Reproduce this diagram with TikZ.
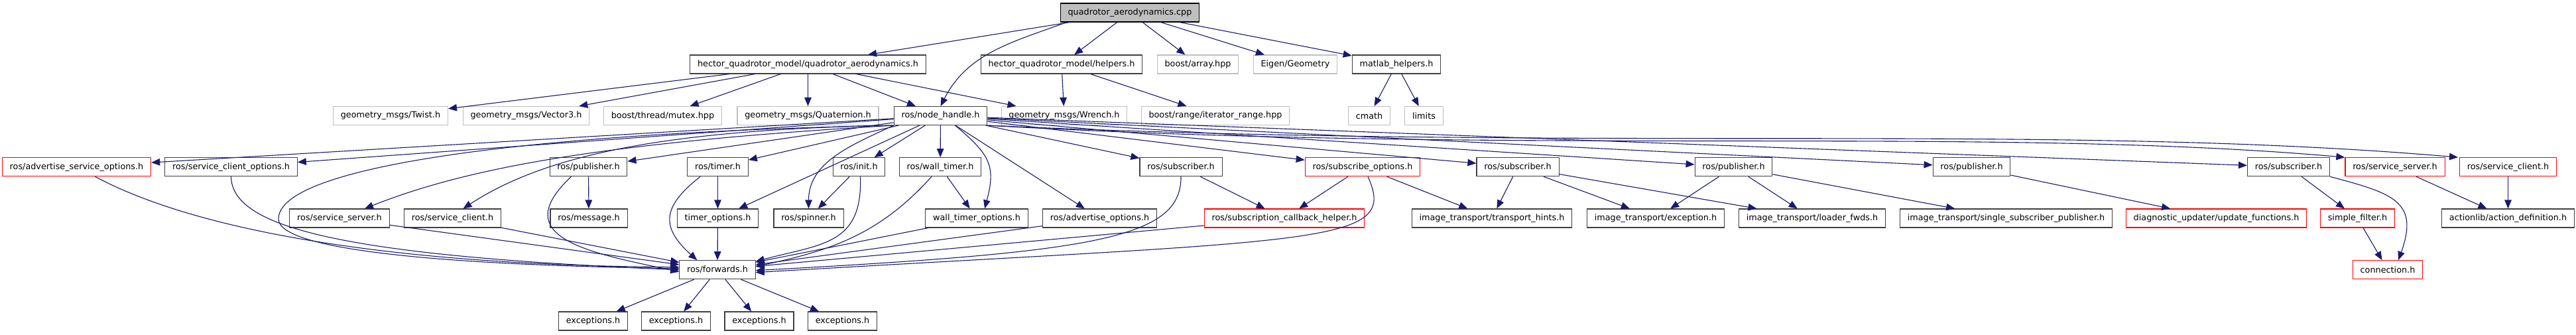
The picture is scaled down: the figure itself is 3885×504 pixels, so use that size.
\documentclass[tikz,border=0pt]{standalone}
\usepackage{fontspec}
\setmainfont{DejaVu Sans}
\usepackage{tikz}
\usetikzlibrary{arrows.meta, calc}
\definecolor{edgeblue}{HTML}{191970}
\definecolor{boxgray}{HTML}{404040}
\definecolor{sysgray}{HTML}{BFBFBF}
\definecolor{cutred}{HTML}{FF0000}
\tikzset{
    hfile/.style={draw=boxgray, line width=1.1pt, minimum height=28pt,
        inner xsep=11.3pt, inner ysep=0pt, font=\fontsize{12.8}{15}\selectfont},
    sysfile/.style={hfile, draw=sysgray},
    cutfile/.style={hfile, draw=cutred},
    srcfile/.style={hfile, draw=black, fill=sysgray},
    incl/.style={draw=edgeblue, line width=1.1pt, -{Triangle[length=13pt, width=10.5pt]}}
}

\begin{document}
\begin{tikzpicture}[x=1pt, y=1pt]
    \useasboundingbox (0,0) rectangle (3885,-504);
    % Source file
    \node[srcfile] (cpp) at (1704,-19) {quadrotor\_aerodynamics.cpp};
    % Direct includes
    \node[hfile] (qah) at (1218.5,-97) {hector\_quadrotor\_model/quadrotor\_aerodynamics.h};
    \node[hfile] (helpers) at (1601,-97) {hector\_quadrotor\_model/helpers.h};
    \node[sysfile] (array) at (1806.5,-97) {boost/array.hpp};
    \node[sysfile] (eigen) at (1953.5,-97) {Eigen/Geometry};
    \node[hfile] (matlab) at (2106,-97) {matlab\_helpers.h};
    % Messages, node handle, system headers
    \node[sysfile] (twist) at (589,-174.5) {geometry\_msgs/Twist.h};
    \node[sysfile] (vector3) at (793.5,-174.5) {geometry\_msgs/Vector3.h};
    \node[sysfile] (mutex) at (999.5,-174.5) {boost/thread/mutex.hpp};
    \node[sysfile] (quaternion) at (1218.5,-174.5) {geometry\_msgs/Quaternion.h};
    \node[hfile] (nodehandle) at (1418.5,-174.5) {ros/node\_handle.h};
    \node[sysfile] (wrench) at (1605,-174.5) {geometry\_msgs/Wrench.h};
    \node[sysfile] (iterrange) at (1833,-174.5) {boost/range/iterator\_range.hpp};
    \node[sysfile] (cmath) at (2065,-174.5) {cmath};
    \node[sysfile] (limits) at (2147.5,-174.5) {limits};
    % What the node handle pulls in
    \node[cutfile] (advsrvopt) at (115.5,-251.7) {ros/advertise\_service\_options.h};
    \node[hfile] (srvcliopt) at (348.5,-251.7) {ros/service\_client\_options.h};
    \node[hfile] (pubA) at (887.5,-251.7) {ros/publisher.h};
    \node[hfile] (timer) at (1082.5,-251.7) {ros/timer.h};
    \node[hfile] (init) at (1295.5,-251.7) {ros/init.h};
    \node[hfile] (walltimer) at (1418,-251.7) {ros/wall\_timer.h};
    \node[hfile] (subA) at (1781,-251.7) {ros/subscriber.h};
    \node[cutfile] (subopt) at (2055,-251.7) {ros/subscribe\_options.h};
    \node[hfile] (subB) at (2289,-251.7) {ros/subscriber.h};
    \node[hfile] (pubB) at (2614.5,-251.7) {ros/publisher.h};
    \node[hfile] (pubC) at (2973.5,-251.7) {ros/publisher.h};
    \node[hfile] (subC) at (3451.5,-251.7) {ros/subscriber.h};
    \node[cutfile] (srvsrvR) at (3612,-251.7) {ros/service\_server.h};
    \node[cutfile] (srvcliR) at (3782.5,-251.7) {ros/service\_client.h};
    % Next level
    \node[hfile] (srvsrv) at (512,-329) {ros/service\_server.h};
    \node[hfile] (srvcli) at (682.5,-329) {ros/service\_client.h};
    \node[hfile] (message) at (888,-329) {ros/message.h};
    \node[hfile] (timeropt) at (1082.5,-329) {timer\_options.h};
    \node[hfile] (spinner) at (1219.5,-329) {ros/spinner.h};
    \node[hfile] (walltimeropt) at (1473,-329) {wall\_timer\_options.h};
    \node[hfile] (advopt) at (1658.5,-329) {ros/advertise\_options.h};
    \node[cutfile] (subcb) at (1937,-329) {ros/subscription\_callback\_helper.h};
    \node[hfile] (hints) at (2250,-329) {image\_transport/transport\_hints.h};
    \node[hfile] (exception) at (2497,-329) {image\_transport/exception.h};
    \node[hfile] (loader) at (2733,-329) {image\_transport/loader\_fwds.h};
    \node[hfile] (single) at (3025.5,-329) {image\_transport/single\_subscriber\_publisher.h};
    \node[cutfile] (diag) at (3342.5,-329) {diagnostic\_updater/update\_functions.h};
    \node[cutfile] (simple) at (3555.5,-329) {simple\_filter.h};
    \node[hfile] (actiondef) at (3782.5,-329) {actionlib/action\_definition.h};
    % Forwards and connection
    \node[hfile] (forwards) at (1082,-406.7) {ros/forwards.h};
    \node[cutfile] (connection) at (3601,-406.7) {connection.h};
    % Exceptions
    \node[hfile] (exc1) at (894.5,-484) {exceptions.h};
    \node[hfile] (exc2) at (1019.5,-484) {exceptions.h};
    \node[hfile] (exc3) at (1145,-484) {exceptions.h};
    \node[hfile] (exc4) at (1270.5,-484) {exceptions.h};

    % Includes of the source file
    \draw [incl] (cpp) -- (qah);
    \draw [incl] ([xshift=10pt]cpp.south west) to[out=200, in=63] (nodehandle.north);
    \draw [incl] (cpp) -- (helpers);
    \draw [incl] (cpp) -- (array);
    \draw [incl] (cpp) -- (eigen);
    \draw [incl] (cpp) -- (matlab);
    % Model headers
    \draw [incl] (qah) -- (twist);
    \draw [incl] (qah) -- (vector3);
    \draw [incl] (qah) -- (mutex);
    \draw [incl] (qah) -- (quaternion);
    \draw [incl] (qah) -- (nodehandle);
    \draw [incl] (qah) -- (wrench);
    \draw [incl] (helpers) -- (wrench);
    \draw [incl] (helpers) -- (iterrange);
    \draw [incl] (matlab) -- (cmath);
    \draw [incl] (matlab) -- (limits);
    % Node handle
    \draw [incl] (nodehandle) -- (advsrvopt);
    \draw [incl] (nodehandle) -- (srvcliopt);
    \draw [incl] (nodehandle.south west) .. controls (800,-200) and (420,-250) .. (420,-330)
        .. controls (420,-380) and (700,-400) .. ([yshift=2pt]forwards.west);
    \draw [incl] (nodehandle.south west) .. controls (900,-215) and (700,-255) .. ([xshift=38pt]srvsrv.north);
    \draw [incl] (nodehandle.south west) .. controls (1000,-195) and (820,-235) .. ([xshift=16pt]srvcli.north);
    \draw [incl] (nodehandle) -- (pubA);
    \draw [incl] (nodehandle) -- (timer);
    \draw [incl] (nodehandle) -- (timeropt);
    \draw [incl] (nodehandle.south west) to[out=205, in=90] (spinner.north);
    \draw [incl] (nodehandle) -- (init);
    \draw [incl] (nodehandle) -- (walltimer);
    \draw [incl] ([xshift=22pt]nodehandle.south) to[out=-40, in=75, looseness=1.3] ([xshift=12pt]walltimeropt.north);
    \draw [incl] (nodehandle) -- (advopt);
    \draw [incl] (nodehandle) -- (subA);
    \draw [incl] (nodehandle) -- (subopt);
    \draw [incl] (nodehandle) -- (subB);
    \draw [incl] (nodehandle) -- (pubB);
    \draw [incl] (nodehandle) -- (pubC);
    \draw [incl] (nodehandle) -- (subC);
    \draw [incl] (nodehandle.south east) .. controls (2300,-235) and (3000,-190) .. (srvsrvR.north west);
    \draw [incl] (nodehandle.south east) .. controls (2400,-230) and (3100,-185) .. ([xshift=-2pt]srvcliR.north west);
    % Down to ros/forwards.h
    \draw [incl] ([xshift=28pt]advsrvopt.south) .. controls (300,-350) and (600,-400) .. ([yshift=4pt]forwards.west);
    \draw [incl] (srvcliopt.south) .. controls (350,-340) and (500,-385) .. (forwards.west);
    \draw [incl] (srvsrv) -- (forwards);
    \draw [incl] (srvcli) -- (forwards);
    \draw [incl] (pubA) -- (message);
    \draw [incl] ([xshift=33pt]pubA.south west) to[out=223, in=168, looseness=1.6] ([yshift=-3pt]forwards.west);
    \draw [incl] (timer) -- (timeropt);
    \draw [incl] ([xshift=20pt]timer.south west) to[out=218, in=138, looseness=1.5] ([xshift=27pt]forwards.north west);
    \draw [incl] (timeropt) -- (forwards);
    \draw [incl] (init) -- (spinner);
    \draw [incl] ([xshift=2pt]init.south) to[out=-88, in=15, looseness=1.3] ([yshift=-2pt]forwards.north east);
    \draw [incl] (walltimer) -- (walltimeropt);
    \draw [incl] ([xshift=-13pt]walltimer.south) to[out=228, in=12] ([yshift=5pt]forwards.east);
    \draw [incl] (walltimeropt) -- (forwards);
    \draw [incl] (advopt) -- (forwards);
    \draw [incl] (subA) -- (subcb);
    \draw [incl] (subA.south) .. controls (1782,-360) and (1650,-380) .. ([yshift=-1pt]forwards.east);
    \draw [incl] (subcb) -- (forwards);
    \draw [incl] (subopt) -- (subcb);
    \draw [incl] ([xshift=8pt]subopt.south) .. controls (2110,-370) and (2000,-360) .. ([yshift=-4pt]forwards.east);
    \draw [incl] (subopt) -- (hints);
    % image_transport and the rest
    \draw [incl] (subB) -- (hints);
    \draw [incl] (subB) -- (exception);
    \draw [incl] (subB) -- (loader);
    \draw [incl] (pubB) -- (exception);
    \draw [incl] (pubB) -- (loader);
    \draw [incl] (pubB) -- (single);
    \draw [incl] (pubC) -- (diag);
    \draw [incl] (subC) -- (simple);
    \draw [incl] (subC.south east) to[out=-15, in=70, looseness=1.5] ([xshift=16pt]connection.north);
    \draw [incl] (simple) -- (connection);
    \draw [incl] (srvsrvR) -- (actiondef);
    \draw [incl] (srvcliR) -- (actiondef);
    % Exceptions
    \draw [incl] (forwards) -- (exc1);
    \draw [incl] (forwards) -- (exc2);
    \draw [incl] (forwards) -- (exc3);
    \draw [incl] (forwards) -- (exc4);
\end{tikzpicture}
\end{document}
